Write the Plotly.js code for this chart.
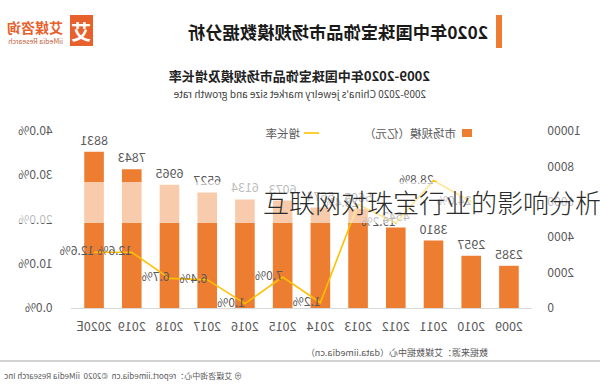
<!DOCTYPE html>
<html>
<head>
<meta charset="utf-8">
<script src="https://cdn.plot.ly/plotly-3.0.1.min.js"></script>
<style>
  html, body { margin: 0; padding: 0; background: #fff; }
  #wrap { position: relative; width: 600px; height: 390px; overflow: hidden; }
  #chart { position: absolute; left: 0; top: 0; width: 600px; height: 390px; transform: scaleX(-1); }
  #band { position: absolute; left: 0; top: 182px; width: 600px; height: 41px; background: rgba(255,255,255,0.6); }
  #caption { position: absolute; left: 263px; top: 182px; height: 41px; line-height: 40px; white-space: nowrap;
             font-family: "Noto Sans CJK SC", "Noto Sans", sans-serif; font-size: 26px; color: #2b2b2b; font-weight: 300; }
</style>
</head>
<body>
<div id="wrap">
  <div id="chart"></div>
  <div id="band"></div>
  <div id="caption">互联网对珠宝行业的影响分析</div>
</div>
<script>
const years = ['2009','2010','2011','2012','2013','2014','2015','2016','2017','2018','2019','2020E'];
const marketSize = [2385, 2957, 3810, 4542, 5605, 5674, 6073, 6134, 6527, 6965, 7843, 8831];
const growthRate = [null, 24.0, 28.8, 19.2, 23.4, 1.2, 7.0, 1.0, 6.4, 6.7, 12.6, 12.6];
const sizeTicks = [0, 2000, 4000, 6000, 8000, 10000];
const rateTicks = [0, 10, 20, 30, 40];

const FONT = '"Noto Sans CJK SC", "Noto Sans", sans-serif';
const L = 68, R = 529, T = 131, B = 308;
const px = x => (x - L) / (R - L);
const py = y => (B - y) / (B - T);

const bars = {
  type: 'bar', x: years, y: marketSize, yaxis: 'y',
  marker: { color: '#ED7D31' },
  text: marketSize.map(String), textposition: 'outside', constraintext: 'none',
  textfont: { family: FONT, size: 12.5, color: '#595959' },
  cliponaxis: false, hoverinfo: 'skip'
};
const line = {
  type: 'scatter', mode: 'lines+text', x: years, y: growthRate, yaxis: 'y2',
  line: { color: '#FFC000', width: 1.6 },
  text: growthRate.map(v => v === null ? '' : v.toFixed(1) + '%'),
  textposition: 'middle right',
  textfont: { family: FONT, size: 12, color: '#595959' },
  cliponaxis: false, connectgaps: false, hoverinfo: 'skip'
};

const annotations = [
  { text: '2020年中国珠宝饰品市场规模数据分析', x: px(110), y: py(32), xanchor: 'left', yanchor: 'middle',
    font: { family: FONT, size: 17.3, color: '#1a1a1a', weight: 600 } },
  { text: '艾', x: px(518.5), y: py(31), xanchor: 'center', yanchor: 'middle',
    font: { family: FONT, size: 20, color: '#ffffff', weight: 700 } },
  { text: '艾媒咨询', x: px(535), y: py(27), xanchor: 'left', yanchor: 'middle',
    font: { family: FONT, size: 14, color: '#E8602C', weight: 700 } },
  { text: 'iiMedia Research', x: px(535), y: py(41), xanchor: 'left', yanchor: 'middle',
    font: { family: FONT, size: 7, color: '#C0603A' } },
  { text: '2009-2020年中国珠宝饰品市场规模及增长率', x: px(300), y: py(75), xanchor: 'center', yanchor: 'middle',
    font: { family: FONT, size: 13, color: '#222222', weight: 700 } },
  { text: "2009-2020 China's jewelry market size and growth rate", x: px(300), y: py(93), xanchor: 'center', yanchor: 'middle',
    font: { family: FONT, size: 10, color: '#404040' } },
  { text: '市场规模（亿元）', x: px(142), y: py(133), xanchor: 'left', yanchor: 'middle',
    font: { family: FONT, size: 11.5, color: '#595959' } },
  { text: '增长率', x: px(298), y: py(133), xanchor: 'left', yanchor: 'middle',
    font: { family: FONT, size: 11.5, color: '#595959' } },
  { text: '数据来源：艾媒数据中心（data.iimedia.cn）', x: px(110), y: py(352), xanchor: 'left', yanchor: 'middle',
    font: { family: FONT, size: 9, color: '#595959' } },
  { text: '⊕ 艾媒咨询中心：report.iimedia.cn  ©2020  iiMedia Research Inc', x: px(598), y: py(375), xanchor: 'right', yanchor: 'middle',
    font: { family: FONT, size: 8, color: '#595959' } }
].map(a => Object.assign({ xref: 'paper', yref: 'paper', showarrow: false }, a));

const shapes = [
  { type: 'rect', x0: px(98), x1: px(104), y0: py(15), y1: py(48), fillcolor: '#ED7D31', line: { width: 0 } },
  { type: 'rect', x0: px(507), x1: px(530), y0: py(15), y1: py(46), fillcolor: '#E8602C', line: { width: 0 } },
  { type: 'rect', x0: px(128), x1: px(138), y0: py(129), y1: py(137), fillcolor: '#ED7D31', line: { width: 0 } },
  { type: 'line', x0: px(281), x1: px(296), y0: py(133), y1: py(133), line: { color: '#FFC000', width: 1.6 } },
  { type: 'line', x0: px(0), x1: px(600), y0: py(361), y1: py(361), line: { color: '#a6a6a6', width: 1.2 } }
].map(s => Object.assign({ xref: 'paper', yref: 'paper' }, s));

const layout = {
  width: 600, height: 390,
  margin: { l: L, r: 600 - R, t: T, b: 390 - B, pad: 0 },
  paper_bgcolor: '#ffffff', plot_bgcolor: '#ffffff',
  showlegend: false, bargap: 0.48,
  font: { family: FONT, color: '#595959' },
  xaxis: {
    type: 'category', showgrid: false, zeroline: false,
    showline: true, linecolor: '#d9d9d9', linewidth: 1,
    ticks: 'outside', ticklen: 7, tickcolor: 'rgba(0,0,0,0)',
    tickfont: { family: FONT, size: 12.5, color: '#595959' }
  },
  yaxis: {
    range: [0, 10000], tickvals: sizeTicks, ticktext: sizeTicks.map(String),
    showgrid: false, zeroline: false, showline: false,
    ticks: 'outside', ticklen: 12, tickcolor: 'rgba(0,0,0,0)',
    tickfont: { family: FONT, size: 12, color: '#595959' }
  },
  yaxis2: {
    overlaying: 'y', side: 'right', range: [0, 40], tickvals: rateTicks,
    ticktext: rateTicks.map(v => v.toFixed(1) + '%'),
    showgrid: false, zeroline: false, showline: false,
    ticks: 'outside', ticklen: 15, tickcolor: 'rgba(0,0,0,0)',
    tickfont: { family: FONT, size: 12, color: '#595959' }
  },
  annotations: annotations,
  shapes: shapes
};

Plotly.newPlot('chart', [bars, line], layout, { staticPlot: true, displayModeBar: false });
</script>
</body>
</html>
